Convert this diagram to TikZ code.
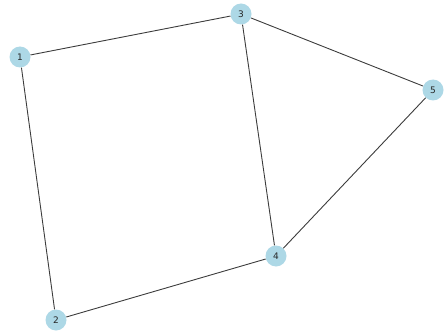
\documentclass[tikz,border=0pt]{standalone}
\usepackage{fontspec}
\setsansfont{DejaVu Sans}
\usepackage{tikz}
\definecolor{nodeblue}{RGB}{173,216,230}
\definecolor{edgegray}{RGB}{60,60,60}

\begin{document}
\begin{tikzpicture}[x=1pt,y=-1pt]
\tikzset{vtx/.style={circle,fill=nodeblue,minimum size=21pt,inner sep=0pt,font=\sffamily\fontsize{9}{10}\selectfont,text=black!85}}
\useasboundingbox (0,0) rectangle (444,334);
\node (1) at (20,57) [vtx] {1};
\node (2) at (56,320) [vtx] {2};
\node (3) at (241,14) [vtx] {3};
\node (4) at (276,256) [vtx] {4};
\node (5) at (433,90) [vtx] {5};

\path[draw=edgegray,line width=0.9pt]
(1) edge node {} (3)
(1) edge node {} (2)
(3) edge node {} (4)
(3) edge node {} (5)
(2) edge node {} (4)
(4) edge node {} (5);
\end{tikzpicture}
\end{document}
